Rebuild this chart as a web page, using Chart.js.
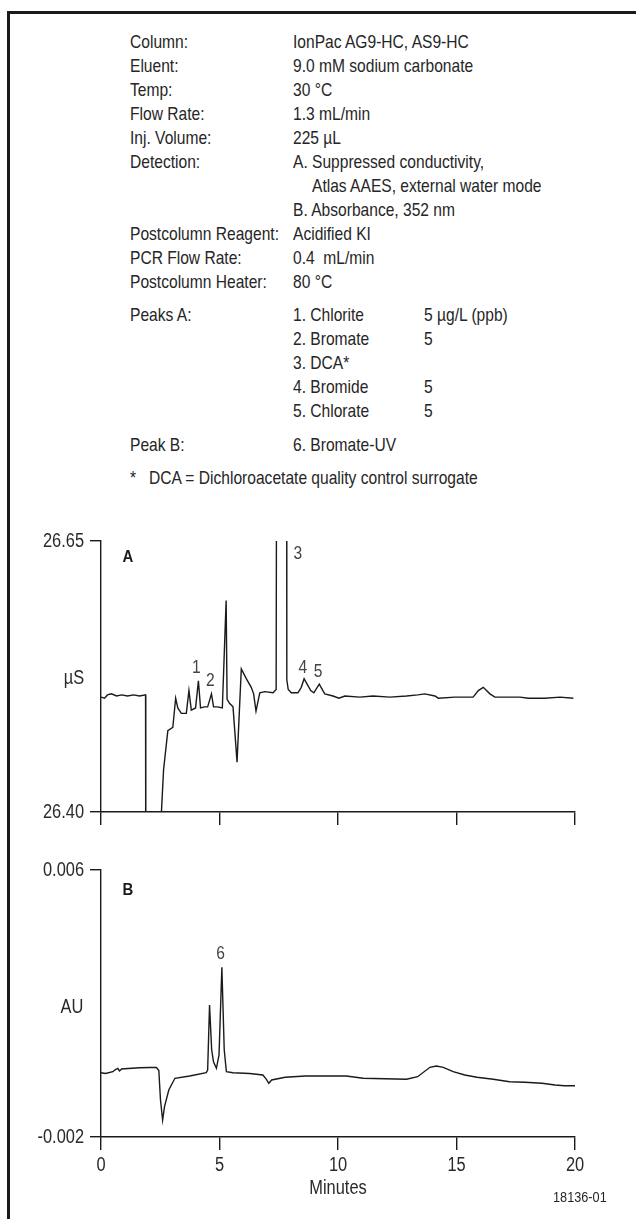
<!DOCTYPE html>
<html>
<head>
<meta charset="utf-8">
<script src="https://cdn.jsdelivr.net/npm/chart.js@4.4.1/dist/chart.umd.min.js"></script>
<style>
  body { margin: 0; background: #fff; }
  #page { position: relative; width: 636px; height: 1219px; overflow: hidden; font-family: 'Liberation Sans', Arial, sans-serif; color: #262626; }
  #frame { position: absolute; left: 7px; top: 11px; right: -20px; bottom: -20px; border-top: 3px solid #1a1a1a; border-left: 3px solid #1a1a1a; }
  .t { position: absolute; font-size: 19px; line-height: 24px; white-space: pre; transform: scaleX(0.82); transform-origin: 0 0; }
  canvas { position: absolute; left: 0; }
  #code { font-size: 15.5px; line-height: 20px; }
</style>
</head>
<body>
<div id="page">
  <div id="frame"></div>
  <div id="conditions"></div>
  <canvas id="chartA" width="636" height="340" style="top:500px"></canvas>
  <canvas id="chartB" width="636" height="369" style="top:850px"></canvas>
  <div id="code" class="t" style="left:553px; top:1187px">18136-01</div>
</div>
<script>
// chromatogram A: suppressed conductivity (µS) vs minutes
const timesA = [0, 0.15, 0.27, 0.44, 0.66, 0.87, 1.12, 1.37, 1.63, 1.88, 1.89, 2.53, 2.55, 2.64, 2.82,
  3.03, 3.15, 3.24, 3.39, 3.60, 3.71, 3.81, 3.99, 4.11, 4.20, 4.37, 4.50, 4.66, 4.75, 4.92,
  5.12, 5.28, 5.32, 5.43, 5.57, 5.74, 5.92, 6.13, 6.34, 6.44, 6.54, 6.70, 6.91, 7.26, 7.39,
  7.47, 7.81, 7.84, 7.90, 8.03, 8.31, 8.45, 8.57, 8.72, 8.85, 8.98, 9.21, 9.44, 9.79, 10.04,
  10.29, 10.92, 11.48, 12.19, 12.89, 13.37, 13.66, 14.09, 14.23, 14.93, 15.70, 15.92, 16.13,
  16.41, 16.62, 17.25, 17.68, 18.03, 18.73, 19.37, 19.93];
const signalA = [26.506, 26.505, 26.508, 26.509, 26.507, 26.508, 26.507, 26.508, 26.507, 26.508,
  26.32, 26.32, 26.400, 26.439, 26.475, 26.478, 26.505, 26.496, 26.491, 26.491, 26.512, 26.494,
  26.496, 26.521, 26.496, 26.497, 26.497, 26.509, 26.497, 26.497, 26.496, 26.595, 26.504, 26.500,
  26.497, 26.446, 26.532, 26.523, 26.515, 26.509, 26.493, 26.510, 26.511, 26.510, 26.513, 27.5,
  27.5, 26.522, 26.513, 26.510, 26.510, 26.515, 26.523, 26.517, 26.512, 26.510, 26.518, 26.509,
  26.507, 26.505, 26.507, 26.506, 26.507, 26.506, 26.507, 26.508, 26.509, 26.507, 26.505, 26.506,
  26.506, 26.512, 26.515, 26.509, 26.506, 26.506, 26.506, 26.505, 26.505, 26.506, 26.505];
const rangeA = [26.40, 26.65];
const peakNumsA = ['1', '2', '3', '4', '5'];
const peakTimesA = [4.02, 4.61, 8.31, 8.52, 9.16];
const peakLevelsA = [26.533, 26.521, 26.638, 26.533, 26.529];

// chromatogram B: absorbance (AU) vs minutes
const timesB = [0, 0.19, 0.50, 0.61, 0.71, 0.78, 0.87, 0.99, 1.63, 2.05, 2.34, 2.44, 2.51, 2.60,
  2.68, 2.86, 3.12, 3.74, 4.44, 4.50, 4.58, 4.67, 4.75, 4.87, 4.98, 5.10, 5.20, 5.29, 5.57, 6.27,
  6.83, 6.98, 7.08, 7.20, 7.77, 8.63, 9.65, 10.35, 11.06, 11.97, 12.89, 13.36, 13.88, 14.15,
  14.44, 14.86, 15.35, 15.86, 16.55, 17.24, 17.89, 18.61, 19.16, 19.56, 20.0];
const signalB = [-0.000073, -0.000097, -0.000043, 0.000022, 0.000058, -0.000022, 0.000037, 0.000046,
  0.000076, 0.000082, 0.000082, -0.000007, -0.000891, -0.001491, -0.001092, -0.000592, -0.000241,
  -0.000172, -0.000073, 0.000007, 0.001955, 0.000607, 0.000247, 0.000058, 0.000457, 0.003085,
  0.000607, -0.000043, -0.000073, -0.000097, -0.000142, -0.000271, -0.000391, -0.000292, -0.000211,
  -0.000172, -0.000172, -0.000172, -0.000241, -0.000256, -0.000271, -0.000193, 0.000088, 0.000127,
  0.000088, -0.000043, -0.000142, -0.000211, -0.000271, -0.000343, -0.000361, -0.000391, -0.000442,
  -0.000463, -0.000463];
const rangeB = [-0.002, 0.006];
const peakNumsB = ['6'];
const peakTimesB = [5.05];
const peakLevelsB = [0.00349];

const xTicks = [0, 5, 10, 15, 20];

// method conditions text block: [left x, row centre y, text]
const conditionText = [
  [130, 42, 'Column:'], [293, 42, 'IonPac AG9-HC, AS9-HC'],
  [130, 66, 'Eluent:'], [293, 66, '9.0 mM sodium carbonate'],
  [130, 90, 'Temp:'], [293, 90, '30 °C'],
  [130, 114, 'Flow Rate:'], [293, 114, '1.3 mL/min'],
  [130, 138, 'Inj. Volume:'], [293, 138, '225 µL'],
  [130, 162, 'Detection:'], [293, 162, 'A. Suppressed conductivity,'],
  [312, 186, 'Atlas AAES, external water mode'],
  [293, 210, 'B. Absorbance, 352 nm'],
  [130, 234, 'Postcolumn Reagent:'], [293, 234, 'Acidified KI'],
  [130, 258, 'PCR Flow Rate:'], [293, 258, '0.4  mL/min'],
  [130, 282, 'Postcolumn Heater:'], [293, 282, '80 °C'],
  [130, 315, 'Peaks A:'], [293, 315, '1. Chlorite'], [424, 315, '5 µg/L (ppb)'],
  [293, 339, '2. Bromate'], [424, 339, '5'],
  [293, 363, '3. DCA*'],
  [293, 387, '4. Bromide'], [424, 387, '5'],
  [293, 411, '5. Chlorate'], [424, 411, '5'],
  [130, 445, 'Peak B:'], [293, 445, '6. Bromate-UV'],
  [130, 478, '*'], [149, 478, 'DCA = Dichloroacetate quality control surrogate'],
];

const FONT = "'Liberation Sans', Arial, sans-serif";
const NARROW = 0.82;
const INK = '#1a1a1a';

function writeConditions() {
  const box = document.getElementById('conditions');
  conditionText.forEach(([left, y, txt]) => {
    const d = document.createElement('div');
    d.className = 't';
    d.style.left = left + 'px';
    d.style.top = y - 12 + 'px';
    d.textContent = txt;
    box.appendChild(d);
  });
}

// condensed text on the canvas, like the original's narrow typeface
function narrowText(ctx, text, x, y, align, font, color, squeeze = NARROW) {
  ctx.save();
  ctx.translate(x, y);
  ctx.scale(squeeze, 1);
  ctx.font = font;
  ctx.fillStyle = color;
  ctx.textAlign = align;
  ctx.textBaseline = 'middle';
  ctx.fillText(text, 0, 0);
  ctx.restore();
}

const chartText = {
  id: 'chartText',
  afterDraw(chart, args, opts) {
    const { ctx, chartArea } = chart;
    const x = chart.scales.x;
    const y = chart.scales.y;
    const tickFont = '20px ' + FONT;
    y.ticks.forEach((tk) => {
      narrowText(ctx, tk.label, chartArea.left - 17, y.getPixelForValue(tk.value), 'right', tickFont, '#2a2a2a');
    });
    if (opts.showX) {
      x.ticks.forEach((tk) => {
        narrowText(ctx, tk.label, x.getPixelForValue(tk.value), chartArea.bottom + 28, 'center', tickFont, '#2a2a2a');
      });
      narrowText(ctx, 'Minutes', (chartArea.left + chartArea.right) / 2, chartArea.bottom + 51, 'center', tickFont, '#2a2a2a');
    }
    opts.nums.forEach((n, i) => {
      narrowText(ctx, n, x.getPixelForValue(opts.times[i]), y.getPixelForValue(opts.levels[i]), 'center', '19px ' + FONT, '#444');
    });
    narrowText(ctx, opts.panel, chartArea.left + 27, chartArea.top + opts.panelDy, 'center', 'bold 17px ' + FONT, INK, 0.88);
    narrowText(ctx, opts.unit, opts.unitX, opts.unitY, 'center', '20px ' + FONT, '#2a2a2a');
  },
};

function createChart(id, times, signal, range, digits, cfg) {
  const ctx = document.getElementById(id).getContext('2d');
  return new Chart(ctx, {
    type: 'line',
    data: {
      datasets: [
        {
          data: times.map((t, i) => ({ x: t, y: signal[i] })),
          borderColor: INK,
          borderWidth: 1.4,
          pointRadius: 0,
          tension: 0,
        },
      ],
    },
    options: {
      responsive: false,
      animation: false,
      devicePixelRatio: 1,
      layout: { padding: { top: cfg.padTop, right: 61, bottom: 0, left: 0 } },
      plugins: {
        legend: { display: false },
        tooltip: { enabled: false },
        chartText: cfg.text,
      },
      scales: {
        x: {
          type: 'linear',
          min: 0,
          max: 20,
          afterBuildTicks: (axis) => { axis.ticks = xTicks.map((v) => ({ value: v })); },
          afterFit: (axis) => { axis.height = cfg.xHeight; },
          grid: { drawOnChartArea: false, drawTicks: true, tickLength: 13, color: INK, lineWidth: 1.4 },
          border: { display: true, color: INK, width: 1.4 },
          ticks: { display: false },
        },
        y: {
          type: 'linear',
          min: range[0],
          max: range[1],
          afterBuildTicks: (axis) => { axis.ticks = range.map((v) => ({ value: v })); },
          afterFit: (axis) => { axis.width = 101; },
          grid: { drawOnChartArea: false, drawTicks: true, tickLength: 11, color: INK, lineWidth: 1.4 },
          border: { display: true, color: INK, width: 1.4 },
          ticks: {
            display: false,
            callback: (v) => Number(v).toFixed(digits),
          },
        },
      },
    },
    plugins: [chartText],
  });
}

writeConditions();

createChart('chartA', timesA, signalA, rangeA, 2, {
  padTop: 41,
  xHeight: 28,
  text: {
    showX: false,
    nums: peakNumsA, times: peakTimesA, levels: peakLevelsA,
    panel: 'A', panelDy: 16, unit: 'µS', unitX: 74, unitY: 178,
  },
});

createChart('chartB', timesB, signalB, rangeB, 3, {
  padTop: 20,
  xHeight: 82,
  text: {
    showX: true,
    nums: peakNumsB, times: peakTimesB, levels: peakLevelsB,
    panel: 'B', panelDy: 20, unit: 'AU', unitX: 72, unitY: 157,
  },
});
</script>
</body>
</html>
